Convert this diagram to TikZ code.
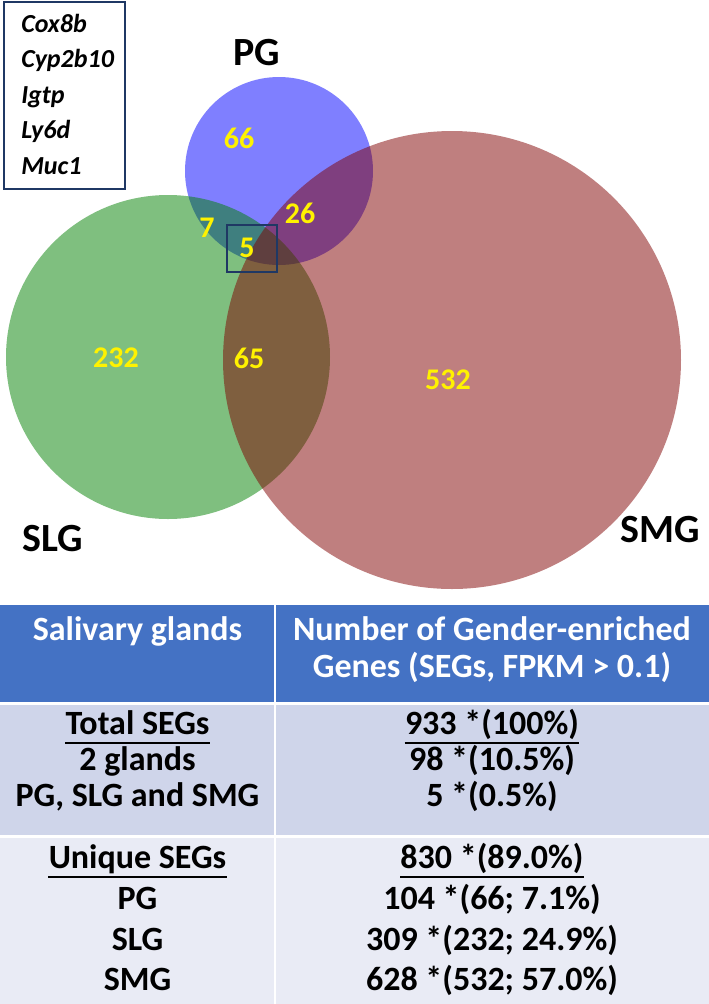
\documentclass[tikz,border=0pt]{standalone}
\usepackage{fontspec}
\setmainfont{Carlito}
\definecolor{hdr}{HTML}{4472C4}
\definecolor{rowA}{HTML}{CFD5EA}
\definecolor{rowB}{HTML}{E9EBF5}
\definecolor{navy}{HTML}{1F3864}
\definecolor{pgcol}{RGB}{0,0,255}
\definecolor{slgcol}{RGB}{0,128,0}
\definecolor{smgcol}{RGB}{128,0,0}
\tikzset{
  venn/.style={circle, inner sep=0pt, draw=none, fill opacity=0.5},
  num/.style={text=yellow, inner sep=0pt, font=\fontsize{22.5}{26}\selectfont\bfseries},
  glabel/.style={inner sep=0pt, font=\fontsize{30}{34}\selectfont\bfseries},
  gene/.style={anchor=base west, inner sep=0pt, font=\fontsize{19.5}{22}\selectfont\bfseries\itshape},
  cell/.style={anchor=base, inner sep=0pt, font=\fontsize{25.5}{30}\selectfont\bfseries},
  hcell/.style={cell, text=white},
  uline/.style={line width=1.3pt, black},
  frame/.style={draw=navy, line width=1.5pt}
}
\begin{document}
\begin{tikzpicture}[x=0.75pt,y=-0.75pt]
\useasboundingbox[fill=white] (0,0) rectangle (709,1004);
% Venn circles
\node[venn, fill=pgcol, minimum size=141pt] (pg) at (279,171) {};
\node[venn, fill=slgcol, minimum size=243pt] (slg) at (168,357) {};
\node[venn, fill=smgcol, minimum size=343.5pt] (smg) at (452,360) {};
% labels
\node[glabel] (pglab) at (257,53) {PG};
\node[glabel] (slglab) at (53,539) {SLG};
\node[glabel] (smglab) at (660,530) {SMG};
% numbers
\node[num] (n66) at (239,138) {66};
\node[num] (n7) at (207,228) {7};
\node[num] (n5) at (247,248) {5};
\node[num] (n26) at (300,213) {26};
\node[num] (n232) at (116,358) {232};
\node[num] (n65) at (249,358) {65};
\node[num] (n532) at (448,380) {532};
% small box around 5
\draw[frame] (227,225) rectangle (277,272);
% gene list box
\draw[frame] (4,1.5) rectangle (125,189);
\node[gene] (g1) at (21,32) {Cox8b};
\node[gene] (g2) at (21,67.5) {Cyp2b10};
\node[gene] (g3) at (21,103) {Igtp};
\node[gene] (g4) at (21,138.5) {Ly6d};
\node[gene] (g5) at (21,174) {Muc1};
% table backgrounds
\fill[hdr] (0,605) rectangle (709,702);
\fill[rowA] (0,705) rectangle (709,835);
\fill[rowB] (0,838) rectangle (709,1004);
\draw[white, line width=1.5pt] (275,605) -- (275,1004);
% header
\node[hcell] (h1) at (137.5,640) {Salivary glands};
\node[hcell] (h2a) at (492,640) {Number of Gender-enriched};
\node[hcell] (h2b) at (492,677) {Genes (SEGs, FPKM > 0.1)};
% section 1
\node[cell] (r1a) at (137.5,734) {Total SEGs};
\node[cell] (r1b) at (492,734) {933 *(100\%)};
\node[cell] (r2a) at (137.5,770) {2 glands};
\node[cell] (r2b) at (492,770) {98 *(10.5\%)};
\node[cell] (r3a) at (137.5,806) {PG, SLG and SMG};
\node[cell] (r3b) at (492,806) {5 *(0.5\%)};
\draw[uline] ([yshift=-6.5pt]r1a.base west) -- ([yshift=-6.5pt]r1a.base east);
\draw[uline] ([yshift=-6.5pt]r1b.base west) -- ([yshift=-6.5pt]r1b.base east);
% section 2
\node[cell] (r4a) at (137.5,868) {Unique SEGs};
\node[cell] (r4b) at (492,868) {830 *(89.0\%)};
\node[cell] (r5a) at (137.5,909) {PG};
\node[cell] (r5b) at (492,909) {104 *(66; 7.1\%)};
\node[cell] (r6a) at (137.5,950) {SLG};
\node[cell] (r6b) at (492,950) {309 *(232; 24.9\%)};
\node[cell] (r7a) at (137.5,990) {SMG};
\node[cell] (r7b) at (492,990) {628 *(532; 57.0\%)};
\draw[uline] ([yshift=-6.5pt]r4a.base west) -- ([yshift=-6.5pt]r4a.base east);
\draw[uline] ([yshift=-6.5pt]r4b.base west) -- ([yshift=-6.5pt]r4b.base east);
\end{tikzpicture}
\end{document}
